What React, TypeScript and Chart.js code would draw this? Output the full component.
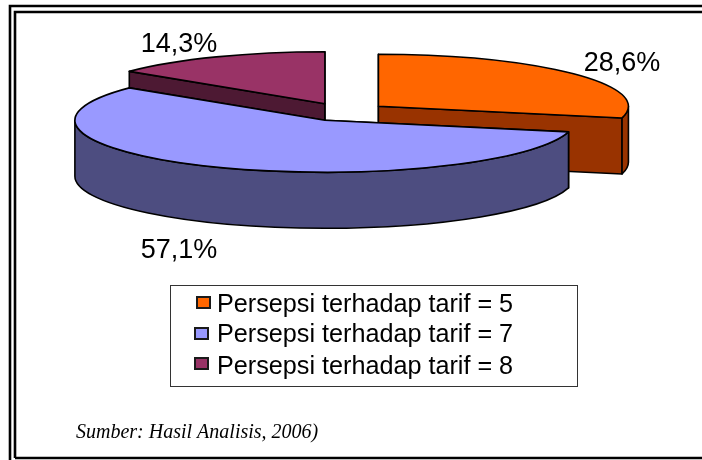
import React, { useEffect, useRef } from "react";
import { Chart, registerables } from "chart.js";

Chart.register(...registerables);

const categories = [
  "Persepsi terhadap tarif = 5",
  "Persepsi terhadap tarif = 7",
  "Persepsi terhadap tarif = 8",
];
const shares = [28.6, 57.1, 14.3];
const topColors = ["#FF6600", "#9999FF", "#993366"];
const sideColors = ["#993300", "#4D4D80", "#4D1933"];
const percentLabels = ["28,6%", "57,1%", "14,3%"];
const sourceNote = "Sumber: Hasil Analisis, 2006)";

const TILT = 0.208;
const DEPTH = 56;
const EXPLODE = 44;
const OUTLINE = 1.6;
const LABEL_POS = [
  { x: 622, y: 64 },
  { x: 179, y: 251 },
  { x: 179, y: 45 },
];
const DRAW_ORDER = [0, 2, 1];

const piePlugin = {
  id: "tiltedPie",
  beforeDraw(chart: any) {
    const ctx = chart.ctx;
    ctx.save();
    ctx.fillStyle = "#FFFFFF";
    ctx.fillRect(0, 0, chart.width, chart.height);
    ctx.strokeStyle = "#000000";
    ctx.lineWidth = 2.6;
    ctx.beginPath();
    ctx.moveTo(10, chart.height + 2);
    ctx.lineTo(10, 6);
    ctx.lineTo(chart.width + 2, 6);
    ctx.moveTo(15, 458);
    ctx.lineTo(15, 12);
    ctx.lineTo(chart.width + 2, 12);
    ctx.moveTo(15, 458);
    ctx.lineTo(chart.width + 2, 458);
    ctx.stroke();
    ctx.restore();
  },
  beforeDatasetsDraw(chart: any) {
    const ctx = chart.ctx;
    const arcs = chart.getDatasetMeta(0).data;
    ctx.save();
    ctx.lineWidth = OUTLINE;
    ctx.strokeStyle = "#000000";
    ctx.lineJoin = "round";
    for (const i of DRAW_ORDER) {
      const arc = arcs[i];
      const a0 = arc.startAngle;
      const a1 = arc.endAngle;
      const mid = (a0 + a1) / 2;
      const R = arc.outerRadius;
      const rx = R;
      const ry = R * TILT;
      const cx = arc.x + Math.cos(mid) * EXPLODE;
      const cy = arc.y + Math.sin(mid) * EXPLODE * TILT;
      const side = sideColors[i];

      // cut faces
      for (const a of [a0, a1]) {
        const px = cx + rx * Math.cos(a);
        const py = cy + ry * Math.sin(a);
        ctx.beginPath();
        ctx.moveTo(cx, cy);
        ctx.lineTo(px, py);
        ctx.lineTo(px, py + DEPTH);
        ctx.lineTo(cx, cy + DEPTH);
        ctx.closePath();
        ctx.fillStyle = side;
        ctx.fill();
        ctx.stroke();
      }

      // outer wall: the part of the rim facing the viewer
      for (const k of [-2, 0, 2]) {
        const lo = Math.max(a0, k * Math.PI);
        const hi = Math.min(a1, k * Math.PI + Math.PI);
        if (hi <= lo) continue;
        ctx.beginPath();
        ctx.ellipse(cx, cy, rx, ry, 0, lo, hi, false);
        ctx.lineTo(cx + rx * Math.cos(hi), cy + ry * Math.sin(hi) + DEPTH);
        ctx.ellipse(cx, cy + DEPTH, rx, ry, 0, hi, lo, true);
        ctx.closePath();
        ctx.fillStyle = side;
        ctx.fill();
        ctx.stroke();
      }

      // top face
      ctx.beginPath();
      ctx.moveTo(cx, cy);
      ctx.ellipse(cx, cy, rx, ry, 0, a0, a1, false);
      ctx.closePath();
      ctx.fillStyle = arc.options.backgroundColor;
      ctx.fill();
      ctx.stroke();
    }
    ctx.restore();

    // percentage labels
    ctx.save();
    ctx.fillStyle = "#000000";
    ctx.font = "27px 'Liberation Sans'";
    ctx.textAlign = "center";
    ctx.textBaseline = "middle";
    percentLabels.forEach((t, i) => ctx.fillText(t, LABEL_POS[i].x, LABEL_POS[i].y));
    ctx.restore();

    // legend
    ctx.save();
    ctx.strokeStyle = "#333333";
    ctx.lineWidth = 1;
    ctx.fillStyle = "#FFFFFF";
    ctx.fillRect(170.5, 285.5, 407, 101);
    ctx.strokeRect(170.5, 285.5, 407, 101);
    ctx.font = "25.2px 'Liberation Sans'";
    ctx.textBaseline = "alphabetic";
    ctx.textAlign = "left";
    const rows = [312, 342, 374];
    const swatchX = [197, 195, 195];
    const swatchY = [297, 328, 358];
    categories.forEach((label, i) => {
      ctx.fillStyle = topColors[i];
      ctx.strokeStyle = "#1A1A1A";
      ctx.lineWidth = 2;
      ctx.fillRect(swatchX[i], swatchY[i], 13, 11);
      ctx.strokeRect(swatchX[i], swatchY[i], 13, 11);
      ctx.fillStyle = "#000000";
      ctx.fillText(label, 217, rows[i]);
    });
    ctx.restore();

    // source note
    ctx.save();
    ctx.fillStyle = "#000000";
    ctx.font = "italic 20px 'Liberation Serif'";
    ctx.textAlign = "left";
    ctx.textBaseline = "alphabetic";
    ctx.fillText(sourceNote, 76, 438);
    ctx.restore();

    return false;
  },
};

export default function App() {
  const ref = useRef<HTMLCanvasElement | null>(null);
  useEffect(() => {
    if (!ref.current) return;
    const chart = new Chart(ref.current, {
      type: "pie",
      data: {
        labels: categories,
        datasets: [
          {
            data: shares,
            backgroundColor: topColors,
            borderColor: "#000000",
            borderWidth: OUTLINE,
          },
        ],
      },
      options: {
        responsive: false,
        animation: false,
        radius: 250,
        layout: { padding: { left: 0, right: 14, top: 0, bottom: 236 } },
        plugins: { legend: { display: false }, tooltip: { enabled: false } },
      } as any,
      plugins: [piePlugin as any],
    });
    return () => chart.destroy();
  }, []);
  return (
    <canvas
      ref={ref}
      width={702}
      height={460}
      style={{ position: "fixed", left: 0, top: 0, display: "block" }}
    />
  );
}
